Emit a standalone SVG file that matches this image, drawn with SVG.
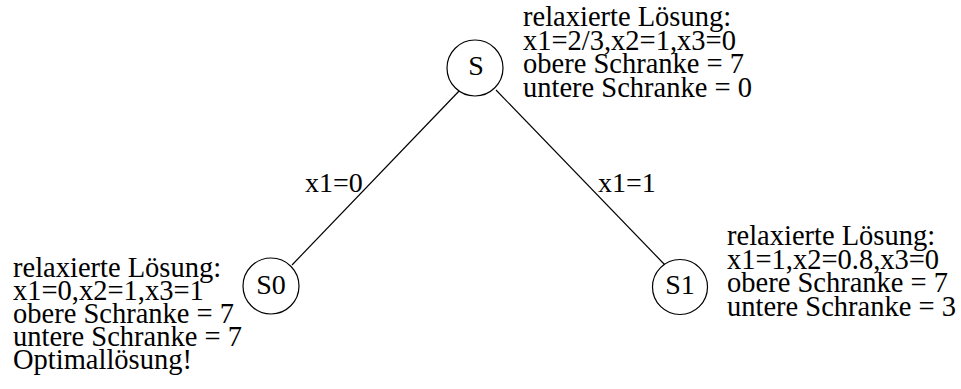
<svg xmlns="http://www.w3.org/2000/svg" width="961" height="389" viewBox="0 0 961 389">
<style>
text{font-family:"Liberation Serif","Times New Roman",serif;font-size:28px;fill:#000}
.info{font-size:28.5px}
.node circle{fill:#fff;stroke:#000;stroke-width:1.2}
.node text{text-anchor:middle}
#edges line{stroke:#000;stroke-width:1.2}
</style>
<rect width="961" height="389" fill="#fff"/>
<g id="edges">
<line x1="461" y1="89" x2="292" y2="265"/>
<line x1="496" y1="90" x2="665" y2="265"/>
<text x="305" y="192">x1=0</text>
<text x="598" y="192">x1=1</text>
</g>
<g id="S" class="node">
<circle cx="475" cy="68" r="28"/>
<text x="476" y="75">S</text>
</g>
<g id="S0" class="node">
<circle cx="271" cy="286" r="28"/>
<text x="271" y="294">S0</text>
</g>
<g id="S1" class="node">
<circle cx="680" cy="287" r="27.5"/>
<text x="680" y="294">S1</text>
</g>
<g id="info-S">
<text class="info" x="523" y="26">relaxierte Lösung:<tspan x="523" dy="23.5">x1=2/3,x2=1,x3=0</tspan><tspan x="523" dy="23.5">obere Schranke = 7</tspan><tspan x="523" dy="23.5">untere Schranke = 0</tspan></text>
</g>
<g id="info-S0">
<text class="info" x="13" y="276.5">relaxierte Lösung:<tspan x="13" dy="23.2">x1=0,x2=1,x3=1</tspan><tspan x="13" dy="23.2">obere Schranke = 7</tspan><tspan x="13" dy="23.2">untere Schranke = 7</tspan><tspan x="13" dy="23.2">Optimallösung!</tspan></text>
</g>
<g id="info-S1">
<text class="info" x="727" y="245">relaxierte Lösung:<tspan x="727" dy="23.5">x1=1,x2=0.8,x3=0</tspan><tspan x="727" dy="23.5">obere Schranke = 7</tspan><tspan x="727" dy="23.5">untere Schranke = 3</tspan></text>
</g>
</svg>
